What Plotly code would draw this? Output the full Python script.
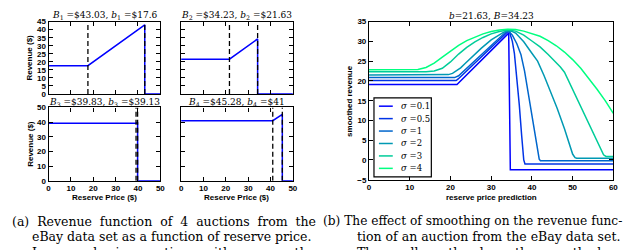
import plotly.graph_objects as go

# ---------------- Panel (a): revenue functions of 4 auctions ----------------
auction_B = [43.03, 34.23, 39.83, 45.28]
auction_b = [17.6, 21.63, 39.13, 41.0]
auction_B_text = ["$43.03", "$34.23", "$39.83", "$45.28"]
auction_b_text = ["$17.6", "$21.63", "$39.13", "$41"]
reserve_max = 50
row_ymax = [45, 50]
x_ticks_a = [0, 10, 20, 30, 40, 50]
y_ticks_top = [0, 5, 10, 15, 20, 25, 30, 35, 40, 45]
y_ticks_bottom = [0, 10, 20, 30, 40, 50]

# ---------------- Panel (b): smoothed revenue for several sigma ----------------
b_example = 21.63
B_example = 34.23
sigma_labels = ["0.1", "0.5", "1", "2", "3", "4"]

x_s01 = [0, 21.6, 34.3, 34.7, 60]
y_s01 = [19.1, 19.1, 32.1, -2.5, -2.5]

x_s05 = [0, 21.4, 21.9, 34.0, 34.5, 35.2, 35.7, 36.2, 36.6, 36.9, 37.5, 38.0, 38.3, 60]
y_s05 = [20.1, 20.1, 20.5, 32.4, 32.4, 30.0, 27.0, 22.0, 17.0, 14.0, 6.0, 0.0, -1.0, -1.0]

x_s1 = [0, 21.0, 22.0, 33.5, 34.3, 35.2, 36.3, 37.3, 38.2, 38.9, 39.3, 40.6, 41.8, 42.1, 60]
y_s1 = [20.85, 20.85, 21.3, 32.3, 32.6, 31.6, 29.4, 26.7, 22.5, 18.2, 15.5, 8.3, 0.2, -0.2, -0.2]

x_s2 = [0, 18.0, 19.5, 20.5, 21.5, 22.5, 23.6, 25.5, 27.6, 30.0, 31.7, 33.0, 34.0, 35.0, 36.0, 38.0, 40.0, 41.4, 43.0, 44.6, 46.2, 48.0, 50.0, 50.6, 51.0, 60]
y_s2 = [21.5, 21.5, 21.6, 21.9, 22.5, 23.3, 24.4, 26.3, 28.3, 30.4, 31.6, 32.3, 32.7, 32.6, 32.1, 29.9, 27.0, 25.0, 21.3, 17.3, 13.1, 7.9, 1.5, 0.6, 0.44, 0.44]

x_s3 = [0, 14, 16, 18, 20, 22, 24, 26, 28, 30, 32, 34, 36, 38, 40, 42, 44, 46, 47, 48, 50, 52, 54, 56, 57.6, 58.2, 60]
y_s3 = [22.3, 22.3, 22.5, 23.2, 24.8, 26.8, 28.5, 29.9, 31.0, 31.9, 32.5, 32.9, 32.6, 31.6, 30.1, 28.6, 26.7, 24.6, 23.5, 22.2, 17.9, 13.5, 9.2, 4.8, 1.3, 0.9, 0.85]

x_s4 = [0, 10, 12, 14, 16, 18, 20, 22, 24, 26, 28, 30, 32, 34, 36, 38, 40, 42, 44, 46, 48, 50, 52, 54, 56, 58, 60]
y_s4 = [22.8, 22.8, 22.9, 23.4, 24.5, 26.0, 27.6, 29.0, 30.2, 31.1, 31.9, 32.5, 32.9, 33.1, 33.0, 32.6, 32.0, 31.3, 30.2, 28.9, 27.3, 25.4, 23.2, 20.6, 17.9, 15.0, 11.8]

x_ticks_b = [0, 10, 20, 30, 40, 50, 60]
y_ticks_b = [-5, 0, 5, 10, 15, 20, 25, 30, 35]

sigma_x = [x_s01, x_s05, x_s1, x_s2, x_s3, x_s4]
sigma_y = [y_s01, y_s05, y_s1, y_s2, y_s3, y_s4]
sigma_colors = ["#0000ff", "#0033e6", "#0066cc", "#0099b3", "#00cc99", "#00ff80"]

W, H = 640, 250

def px(x):
    return x / W

def py(y):
    return 1 - y / H

fig = go.Figure()

axis_ids = ["", "2", "3", "4"]
for i in range(4):
    b = auction_b[i]
    B = auction_B[i]
    ymax = row_ymax[i // 2]
    ax = axis_ids[i]
    fig.add_trace(go.Scatter(
        x=[0, b, B, B, reserve_max], y=[b, b, B, 0, 0],
        mode="lines", line=dict(color="#0000ff", width=1.5),
        xaxis="x" + ax, yaxis="y" + ax, showlegend=False, hoverinfo="skip"))
    for v in (b, B):
        fig.add_trace(go.Scatter(
            x=[v, v], y=[0, ymax], mode="lines",
            line=dict(color="black", width=1.3, dash="5px,3px"),
            xaxis="x" + ax, yaxis="y" + ax, showlegend=False, hoverinfo="skip"))

for i in range(6):
    fig.add_trace(go.Scatter(
        x=sigma_x[i], y=sigma_y[i], mode="lines",
        line=dict(color=sigma_colors[i], width=1.5),
        name="σ =" + sigma_labels[i],
        xaxis="x5", yaxis="y5", showlegend=False, hoverinfo="skip"))

tickfont = dict(family="Liberation Sans", size=8, color="black", weight="bold")
base_axis = dict(showline=True, linecolor="black", linewidth=1.2, mirror="allticks",
                 ticks="inside", ticklen=4, tickwidth=1, tickcolor="black",
                 showgrid=False, zeroline=False, tickfont=tickfont, fixedrange=True)

xd_left = [px(39), px(152)]
xd_right = [px(173), px(286)]
yd_top = [py(85), py(10)]
yd_bot = [py(175), py(99)]

layout = dict(
    width=W, height=H, margin=dict(l=0, r=0, t=0, b=0),
    paper_bgcolor="white", plot_bgcolor="white", showlegend=False,
    xaxis=dict(base_axis, domain=xd_left, range=[0, reserve_max], tickvals=x_ticks_a, showticklabels=False, anchor="y"),
    yaxis=dict(base_axis, domain=yd_top, range=[0, row_ymax[0]], tickvals=y_ticks_top, anchor="x"),
    xaxis2=dict(base_axis, domain=xd_right, range=[0, reserve_max], tickvals=x_ticks_a, showticklabels=False, anchor="y2"),
    yaxis2=dict(base_axis, domain=yd_top, range=[0, row_ymax[0]], tickvals=y_ticks_top, showticklabels=False, anchor="x2"),
    xaxis3=dict(base_axis, domain=xd_left, range=[0, reserve_max], tickvals=x_ticks_a, anchor="y3"),
    yaxis3=dict(base_axis, domain=yd_bot, range=[0, row_ymax[1]], tickvals=y_ticks_bottom, anchor="x3"),
    xaxis4=dict(base_axis, domain=xd_right, range=[0, reserve_max], tickvals=x_ticks_a, anchor="y4"),
    yaxis4=dict(base_axis, domain=yd_bot, range=[0, row_ymax[1]], tickvals=y_ticks_bottom, showticklabels=False, anchor="x4"),
    xaxis5=dict(base_axis, domain=[px(363), px(610)], range=[0, 60], tickvals=x_ticks_b, anchor="y5"),
    yaxis5=dict(base_axis, domain=[py(174), py(10)], range=[-5, 35], tickvals=y_ticks_b, anchor="x5"),
)
fig.update_layout(**layout)

ann = []
shapes = []
serif = "DejaVu Serif"
title_font = dict(family=serif, size=9, color="black")
centers = [(39 + 152) / 2, (173 + 286) / 2]
title_rows = [4, 93.5]
for i in range(4):
    cx = centers[i % 2]
    cy = title_rows[i // 2]
    k = str(i + 1)
    text = ("<i>B</i><sub>" + k + "</sub> =" + auction_B_text[i] +
            ", <i>b</i><sub>" + k + "</sub> =" + auction_b_text[i])
    ann.append(dict(x=px(cx), y=py(cy), xref="paper", yref="paper", text=text,
                    showarrow=False, font=title_font, xanchor="center", yanchor="middle"))

ann.append(dict(x=px((363 + 610) / 2), y=py(4), xref="paper", yref="paper",
                text="<i>b</i>=" + f"{b_example:.2f}" + ", <i>B</i>=" + f"{B_example:.2f}",
                showarrow=False, font=title_font, xanchor="center", yanchor="middle"))

label_font = dict(family="Liberation Sans", size=8, color="black", weight="bold")
for cy in [(10 + 85) / 2, (99 + 175) / 2]:
    ann.append(dict(x=px(20), y=py(cy), xref="paper", yref="paper", text="Revenue ($)",
                    textangle=-90, showarrow=False, font=label_font,
                    xanchor="center", yanchor="middle"))
for cx in centers:
    ann.append(dict(x=px(cx), y=py(192), xref="paper", yref="paper", text="Reserve Price ($)",
                    showarrow=False, font=label_font, xanchor="center", yanchor="middle"))
ann.append(dict(x=px(343), y=py(92), xref="paper", yref="paper", text="smoothed revenue",
                textangle=-90, showarrow=False, font=label_font,
                xanchor="center", yanchor="middle"))
ann.append(dict(x=px((363 + 610) / 2), y=py(192), xref="paper", yref="paper",
                text="reserve price prediction",
                showarrow=False, font=label_font, xanchor="center", yanchor="middle"))

# legend box (drawn by hand to match the compact matplotlib legend)
shapes.append(dict(type="rect", xref="paper", yref="paper",
                   x0=px(368), x1=px(426), y0=py(171), y1=py(89),
                   line=dict(color="black", width=1.2), fillcolor="white", layer="above"))
leg_font = dict(family=serif, size=8.5, color="black")
for i in range(6):
    ry = 97.7 + i * 12.9
    shapes.append(dict(type="line", xref="paper", yref="paper",
                       x0=px(373), x1=px(387), y0=py(ry), y1=py(ry),
                       line=dict(color=sigma_colors[i], width=1.5), layer="above"))
    ann.append(dict(x=px(393), y=py(ry), xref="paper", yref="paper",
                    text="<i>σ</i> =" + sigma_labels[i], showarrow=False, font=leg_font,
                    xanchor="left", yanchor="middle", align="left"))

cap_font = dict(family=serif, size=12.5, color="black")
cap_font_b1 = dict(family=serif, size=12.2, color="black")
sp = "&nbsp;"
caption_a = ["(a)" + sp + " Revenue" + sp + " function" + sp + " of" + sp + " 4" + sp + " auctions" + sp + " from" + sp + " the",
             "eBay data set as a function of reserve price.",
             "In" + sp + " second-price" + sp + " auctions" + sp + " with" + sp + " reserve" + sp + " the"]
caption_b = ["(b) The effect of smoothing on the revenue func-",
             "tion of an auction from the eBay data set.",
             "The smaller <i>σ</i> the closer the smoothed rev-"]
cap_rows = [217, 233, 249]
cap_x_a = [0, 20, 20]
cap_x_b = [314, 349, 349]
for j in range(3):
    ann.append(dict(x=px(cap_x_a[j]), y=py(cap_rows[j]), xref="paper", yref="paper",
                    text=caption_a[j], showarrow=False, font=cap_font,
                    xanchor="left", yanchor="middle", align="left"))
    ann.append(dict(x=px(cap_x_b[j]), y=py(cap_rows[j]), xref="paper", yref="paper",
                    text=caption_b[j], showarrow=False,
                    font=cap_font_b1 if j == 0 else cap_font,
                    xanchor="left", yanchor="middle", align="left"))

fig.update_layout(annotations=ann, shapes=shapes)
fig.write_html("out.html")
